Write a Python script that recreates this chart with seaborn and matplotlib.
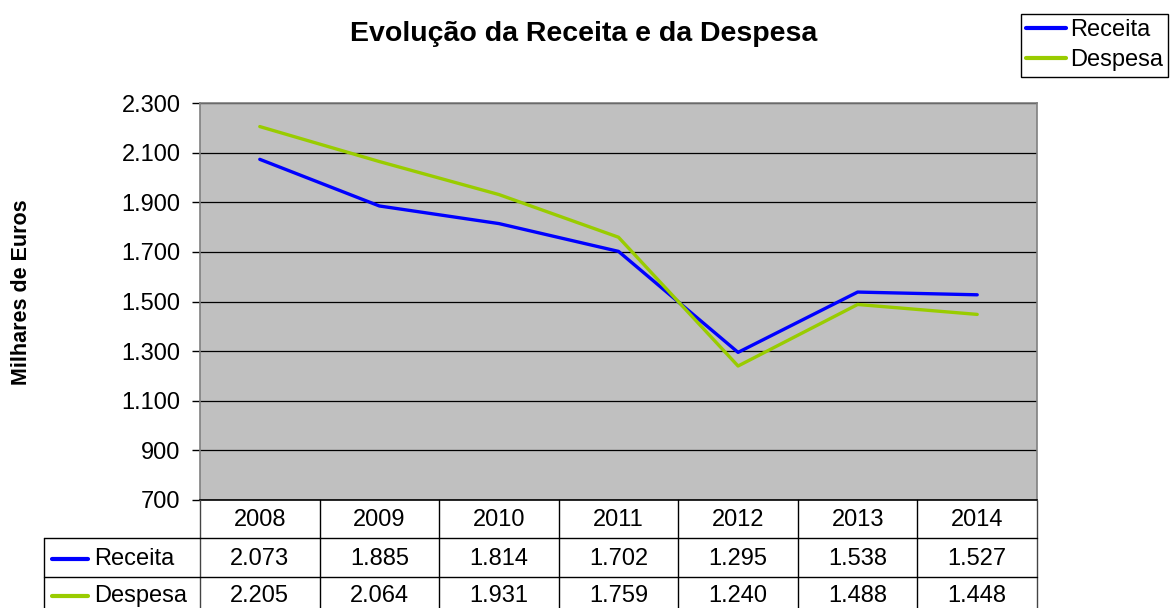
import matplotlib
matplotlib.use("Agg")
import matplotlib.pyplot as plt
import seaborn as sns
import pandas as pd
from matplotlib.lines import Line2D

years = ["2008", "2009", "2010", "2011", "2012", "2013", "2014"]
receita = [2073, 1885, 1814, 1702, 1295, 1538, 1527]
despesa = [2205, 2064, 1931, 1759, 1240, 1488, 1448]
series_names = ["Receita", "Despesa"]
yticks = [700, 900, 1100, 1300, 1500, 1700, 1900, 2100, 2300]

colors = {"Receita": "#0000FF", "Despesa": "#99CC00"}

sns.set_style("white")
plt.rcParams["font.family"] = ["Liberation Sans", "DejaVu Sans"]
plt.rcParams["text.color"] = "black"
plt.rcParams["ytick.color"] = "black"
plt.rcParams["xtick.color"] = "black"
plt.rcParams["axes.labelcolor"] = "black"

W, H = 1170, 608
fig = plt.figure(figsize=(W / 100, H / 100), dpi=100)

def fx(x):
    return x / W

def fy(y):
    return 1 - y / H

L, R, T, B = 200, 1037, 103, 500
ax = fig.add_axes([fx(L), fy(B), fx(R - L), (B - T) / H])
ax.set_facecolor("#C0C0C0")

df = pd.DataFrame({
    "idx": list(range(len(years))) * 2,
    "value": receita + despesa,
    "serie": ["Receita"] * len(years) + ["Despesa"] * len(years),
})
sns.lineplot(data=df, x="idx", y="value", hue="serie", palette=colors,
             linewidth=2.4, ax=ax, legend=False, sort=False)

ax.set_xlim(-0.5, len(years) - 0.5)
ax.set_ylim(700, 2300)
ax.set_yticks(yticks)
ax.set_yticklabels([f"{v:,}".replace(",", ".") for v in yticks], fontsize=17)
ax.set_xticks([])
ax.set_xlabel("")
ax.set_ylabel("")
ax.grid(axis="y", color="black", linewidth=0.9)
ax.set_axisbelow(True)
ax.tick_params(axis="y", which="major", left=True, length=6, width=1,
               color="black", pad=8, labelcolor="black")
for s in ["left", "top", "right", "bottom"]:
    ax.spines[s].set_visible(True)
    ax.spines[s].set_color("#808080")
    ax.spines[s].set_linewidth(1.2)
ax.spines["bottom"].set_color("black")

# data table drawn in figure coordinates
def hline(y, x0, x1, c="black", lw=1.0):
    fig.add_artist(Line2D([fx(x0), fx(x1)], [fy(y), fy(y)], color=c, lw=lw))

def vline(x, y0, y1, c="black", lw=1.0):
    fig.add_artist(Line2D([fx(x), fx(x)], [fy(y0), fy(y1)], color=c, lw=lw))

cw = (R - L) / len(years)
row_centers = [520, 559, 596]
for i in range(len(years) + 1):
    vline(L + i * cw, B, H + 5, c="#444444" if i in (0, len(years)) else "black")
vline(44, 538, H + 5)
hline(538, 44, R)
hline(577, 44, R)

for i, yr in enumerate(years):
    cx = L + (i + 0.5) * cw
    fig.text(fx(cx), fy(row_centers[0]), yr, ha="center", va="center", fontsize=17)
    for r, vals in enumerate([receita, despesa]):
        fig.text(fx(cx), fy(row_centers[r + 1]),
                 f"{vals[i]:,}".replace(",", "."), ha="center", va="center", fontsize=17)

for r, name in enumerate(series_names):
    yc = row_centers[r + 1]
    fig.add_artist(Line2D([fx(52), fx(88)], [fy(yc), fy(yc)], color=colors[name], lw=3,
                          solid_capstyle="round"))
    fig.text(fx(94), fy(yc), name, ha="left", va="center", fontsize=17)

fig.text(fx(584), fy(34), "Evolução da Receita e da Despesa", ha="center", va="center",
         fontsize=20.5, fontweight="bold")
fig.text(fx(22), fy(292), "Milhares de Euros", ha="center", va="center",
         rotation=90, fontsize=15.5, fontweight="bold")

handles = [Line2D([], [], color=colors[n], lw=3) for n in series_names]
leg = fig.legend(handles, series_names, loc="upper left",
                 bbox_to_anchor=(fx(1021), fy(14)), fontsize=17, frameon=True,
                 fancybox=False, edgecolor="black", framealpha=1,
                 handlelength=1.7, handletextpad=0.15, borderpad=0.22,
                 labelspacing=0.35, borderaxespad=0)
leg.get_frame().set_linewidth(1.0)

fig.savefig("out.png", dpi=100)
